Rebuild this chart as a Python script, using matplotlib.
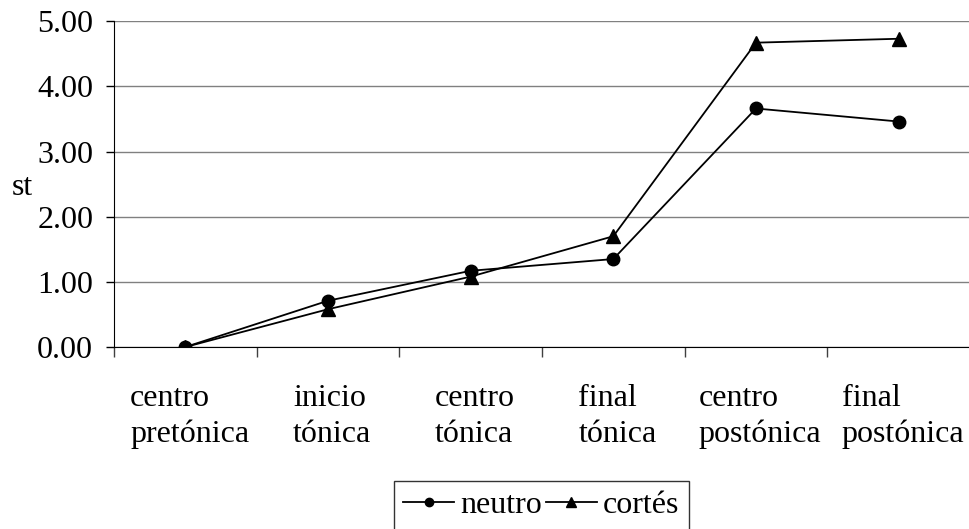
import matplotlib.pyplot as plt
from matplotlib.lines import Line2D

plt.rcParams['font.family'] = ['Liberation Serif', 'DejaVu Serif']

categories = ['centro\npretónica', 'inicio\ntónica', 'centro\ntónica',
              'final\ntónica', 'centro\npostónica', 'final\npostónica']
neutro = [0.00, 0.71, 1.17, 1.35, 3.66, 3.46]
cortes = [0.00, 0.58, 1.08, 1.70, 4.67, 4.73]
y_ticks = [0, 1, 2, 3, 4, 5]

FS = 23

fig = plt.figure(figsize=(9.7, 5.29), dpi=100)
ax = fig.add_axes([0.1175, 0.344, 0.8825, 0.616])

x = list(range(len(categories)))
ax.plot(x, neutro, color='black', lw=1.3, marker='o', ms=9, zorder=3)
ax.plot(x, cortes, color='black', lw=1.3, marker='^', ms=10, zorder=3)

ax.set_ylim(0, 5)
ax.set_xlim(-0.5, 5.44)
ax.set_yticks(y_ticks)
ax.set_yticklabels(['%.2f' % v for v in y_ticks], fontsize=FS)
ax.yaxis.grid(True, color='#808080', lw=1)
ax.set_axisbelow(True)

# ticks on the category boundaries, labels at the centres
ax.set_xticks([i - 0.5 for i in range(len(categories) + 1)])
ax.set_xticklabels([])
ax.tick_params(axis='x', length=7, width=1, color='#404040')
ax.tick_params(axis='y', length=6, width=1, color='black', pad=9)
for i, lab in enumerate(categories):
    ax.text(i + 0.03, -0.57, lab, ha='center', va='top', multialignment='left',
            fontsize=FS, linespacing=1.3)

for side in ['top', 'right']:
    ax.spines[side].set_visible(False)
ax.spines['left'].set_color('black')
ax.spines['bottom'].set_color('black')

fig.text(0.012, 0.646, 'st', fontsize=FS, va='center', ha='left')

handles = [Line2D([], [], color='black', lw=1.3, marker='o', ms=6),
           Line2D([], [], color='black', lw=1.3, marker='^', ms=7)]
leg = fig.legend(handles, ['neutro', 'cortés'], loc='upper center',
                 bbox_to_anchor=(0.558, 0.0907), ncol=2,
                 fontsize=FS, frameon=True, fancybox=False, edgecolor='black',
                 handlelength=1.6, handletextpad=0.2, columnspacing=0.1,
                 borderpad=0.3, borderaxespad=0)
leg.get_frame().set_linewidth(1)

fig.savefig('out.png', dpi=100)
